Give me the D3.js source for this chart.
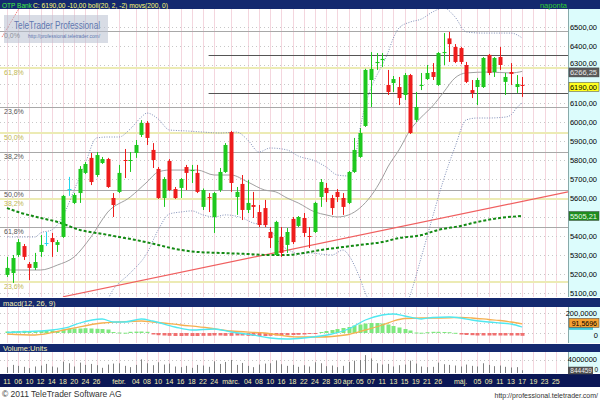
<!DOCTYPE html>
<html><head><meta charset="utf-8">
<script src="https://cdn.jsdelivr.net/npm/d3@7/dist/d3.min.js"></script>
<style>body{margin:0;background:#fff}svg{display:block}text{font-family:"Liberation Sans",Arial,sans-serif}</style>
</head><body><svg id="c" width="600" height="400"></svg>
<script>
// ---------- DATA ----------
const dates = ["01-04","01-05","01-06","01-07","01-10","01-11","01-12","01-13","01-14","01-17","01-18","01-19","01-20","01-21","01-24","01-25","01-26","01-27","01-28","01-31",
"02-01","02-02","02-03","02-04","02-07","02-08","02-09","02-10","02-11","02-14","02-15","02-16","02-17","02-18","02-21","02-22","02-23","02-24","02-25","02-28",
"03-01","03-02","03-03","03-04","03-07","03-08","03-09","03-10","03-11","03-16","03-17","03-18","03-21","03-22","03-23","03-24","03-25","03-28","03-29","03-30","03-31",
"04-01","04-04","04-05","04-06","04-07","04-08","04-11","04-12","04-13","04-14","04-15","04-18","04-19","04-20","04-21","04-22","04-26","04-27","04-28","04-29",
"05-02","05-03","05-04","05-05","05-06","05-09","05-10","05-11","05-12","05-13","05-16","05-17","05-18","05-19","05-20","05-23","05-24","05-25","05-26","05-27"];
const open  = [5195,5205,5300,5347,5253,5232,5316,5363,5389,5353,5395,5647,5574,5626,5732,5811,5721,5784,5805,5600,5632,5800,5795,5837,5932,5995,5853,5753,5600,5795,5647,5653,5763,5742,5732,5553,5605,5500,5642,5737,5947,5605,5674,5537,5563,5526,5547,5421,5300,5395,5353,5490,5453,5495,5400,5421,5605,5653,5600,5632,5600,5574,5737,5816,5979,6221,6310,6326,6195,6205,6184,6142,6247,6011,6190,6226,6263,6195,6365,6440,6395,6389,6300,6168,6184,6184,6353,6263,6342,6211,6263,6184,6195];
const high  = [5290,5300,5384,5358,5263,5311,5405,5421,5416,5379,5616,5711,5626,5768,5789,5837,5842,5816,5811,5626,5774,5858,5842,5905,6010,6005,5889,5763,5710,5805,5658,5705,5774,5774,5774,5650,5626,5632,5758,5889,5953,5658,5721,5695,5632,5563,5590,5447,5480,5447,5442,5500,5505,5521,5447,5580,5700,5679,5616,5647,5626,5742,5916,5968,6280,6368,6363,6363,6274,6242,6237,6258,6253,6158,6258,6300,6310,6368,6468,6474,6410,6395,6316,6221,6232,6342,6358,6342,6395,6258,6310,6247,6237];
const low   = [5184,5153,5290,5274,5168,5221,5290,5347,5290,5316,5390,5611,5568,5574,5726,5668,5711,5779,5653,5500,5626,5705,5737,5811,5921,5879,5758,5595,5553,5637,5595,5600,5642,5679,5626,5537,5526,5416,5632,5732,5632,5511,5484,5521,5495,5447,5447,5337,5295,5290,5311,5358,5447,5395,5337,5416,5553,5579,5511,5579,5511,5568,5732,5811,5974,6079,6274,6289,6142,6158,6089,6116,5937,6000,6168,6221,6221,6190,6300,6316,6310,6305,6205,6126,6089,6179,6247,6237,6274,6142,6195,6153,6132];
const close = [5232,5284,5368,5290,5232,5263,5353,5363,5368,5368,5611,5647,5616,5753,5779,5684,5826,5805,5658,5563,5732,5795,5800,5879,5995,5916,5800,5600,5700,5642,5600,5700,5732,5747,5632,5642,5600,5626,5737,5879,5679,5632,5537,5574,5553,5458,5458,5389,5474,5311,5421,5368,5500,5416,5395,5574,5684,5626,5547,5605,5553,5737,5853,5942,6274,6279,6316,6332,6158,6226,6126,6247,5942,6079,6195,6258,6237,6363,6368,6410,6316,6316,6211,6153,6221,6337,6258,6337,6300,6237,6253,6200,6190];
const volume = [1800000,2500000,2200000,1900000,1500000,2000000,2300000,2800000,2000000,1700000,3500000,3000000,2000000,3200000,2500000,2800000,2400000,1600000,2600000,2900000,
3000000,2200000,1800000,2500000,4200000,3000000,2400000,3300000,2600000,2900000,2000000,1800000,2200000,1600000,2500000,2300000,1900000,3600000,2800000,3400000,
4000000,2500000,3100000,2200000,1800000,2600000,2900000,3000000,3800000,2700000,2200000,2500000,1900000,2400000,2000000,3300000,3000000,2100000,2300000,1800000,
2200000,3400000,3800000,4000000,5500000,4500000,3000000,2600000,2800000,2000000,2400000,2600000,3800000,2900000,2000000,1800000,1900000,3200000,2700000,2500000,
2300000,2000000,2600000,2200000,2000000,3000000,2500000,2100000,2300000,1900000,1700000,1800000,844459];
// Bollinger (20,2): day index -> value
const bbUpperAt = [0,5,6,8,10,12,14,16,18,20,22,24,25,27,29,32,35,38,41,43,45,47,50,52,55,57,59,61,62,63,64,65,67,68,69,70,72,74,76,78,80,82,85,90,92];
const bbUpper   = [5395,5395,5416,5432,5505,5642,5784,5916,5921,5921,5963,6026,6047,6016,5958,5953,5947,5942,5947,5905,5842,5863,5853,5821,5795,5763,5721,5716,5774,5958,6089,6179,6300,6363,6442,6495,6526,6542,6579,6600,6553,6474,6468,6468,6442];
const bbMidAt   = [0,6,9,12,15,18,22,25,27,29,31,34,37,40,43,46,48,50,52,55,57,59,61,63,65,67,68,70,72,74,76,78,80,82,86,90,92];
const bbMid     = [5221,5221,5247,5290,5395,5526,5605,5684,5737,5747,5747,5747,5721,5721,5684,5642,5632,5600,5574,5526,5511,5500,5511,5547,5611,5705,5763,5853,5958,6026,6084,6158,6232,6258,6263,6258,6266.25];
const bbLowerAt = [0,5,8,12,16,19,22,25,27,29,31,33,35,37,39,42,44,46,47,49,51,52,54,56,58,60,61,62,63,64,66,68,70,72,74,76,78,80,82,84,86,89,90,91,92];
const bbLower   = [5047,5047,5010,4940,4960,5120,5205,5310,5432,5516,5526,5532,5511,5500,5511,5495,5468,5458,5432,5353,5316,5305,5311,5305,5300,5326,5300,5247,5179,5100,5000,4950,4950,5090,5290,5500,5700,5868,6011,6021,6021,6026,6037,6074,6100];
// moving average 200
const smaAt = [0,2,6,9,13,17,20,23,27,30,34,38,43,47,50,53,56,60,63,67,70,74,77,81,84,88,92];
const sma   = [5547,5526,5495,5474,5432,5411,5395,5379,5353,5332,5316,5311,5305,5300,5300,5311,5326,5342,5353,5368,5389,5405,5432,5453,5474,5495,5505.21];
// MACD (12,26,9)
const macdAt = [0,2,8,11,13,17,19,21,24,26,30,33,37,40,44,47,50,53,56,58,61,64,67,69,71,74,76,79,81,83,86,88,90,92];
const macd   = [5,10,30,60,100,140,110,110,140,120,60,30,40,10,-20,-50,-60,-50,-30,-10,40,130,180,190,170,140,155,160,150,130,110,100,90,60];
const sigAt  = [0,5,11,17,20,24,26,31,36,40,46,52,56,58,61,64,67,69,71,74,76,79,81,83,86,88,90,92];
const signal = [-10,-20,40,100,110,120,110,80,50,20,0,-40,-40,-35,-15,30,80,120,145,150,150,152,155,150,135,125,110,91.5696];
const hist = [15,18,20,22,20,18,20,22,25,20, 35,40,45,45,48,45,42,40,35, 10,5,3, 12,14,15,12,
-15,-22,-25,-28,-30,-30,-28,-30,-30,-28,-28,-25,-25,-28,-28,-25,-25,-28,-30,-30,-30,-28,-25,-25,-22,-20,-18,-15,
-10,-5, 10,20,30,40,50,60,75,85,95,100,100,95,85,70,55,40,25, 5,3,8,12,12, 10,8,2,
-15,-20,-22,-25,-25,-25,-25,-25,-25,-25,-25,-28];
// drawn studies
const fibGray = [6479,6079,5842,5642,5447];
const fibGrayText = ["0,0%","23,6%","38,2%","50,0%","61,8%"];
const fibYellow = [6284,5942,5595,5158];
const fibYellowText = ["61,8%","50,0%","38,2%","23,6%"];
const hLines = [6353,6153];
const hLinesFrom = "02-23";
const trendDays = ["01-18","05-27"];
const trendVals = [5080,5631];
const trend2Days = ["01-04","01-07"];
const trend2Vals = [6447,6640];
const priceTicks = [5100,5200,5300,5400,5500,5600,5700,5800,5900,6000,6100,6200,6300,6400,6500];
const tickDays = ["01-04","01-06","01-10","01-12","01-14","01-18","01-20","01-24","01-26","02-01","02-04","02-08","02-10","02-14","02-16","02-18","02-22","02-24","03-01","03-04","03-08","03-10","03-16","03-18","03-22","03-24","03-28","03-30","04-01","04-05","04-07","04-11","04-13","04-15","04-19","04-21","04-26","05-02","05-05","05-09","05-11","05-13","05-17","05-19","05-23","05-25"];
const tickText = ["11","06","10","12","14","18","20","24","26","febr.","04","08","10","14","16","18","22","24","márc.","04","08","10","16","18","22","24","28","30","ápr.","05","07","11","13","15","19","21","26","máj.","05","09","11","13","17","19","23","25"];

// ---------- CHART ----------
const svg = d3.select("#c");
const NAVY = "#14296f", NAVY2 = "#0b1755", AXBG = "#dcfcfc";
const PR = 568;
const n = close.length;
const x = d3.scaleBand().domain(dates).range([4.2, 4.2 + 5.6 * dates.length]);
const xc = d => x(d) + x.bandwidth() / 2;
const xi = i => xc(dates[i]);
const yP = d3.scaleLinear().domain([5078.9, 6594.7]).range([297, 9]);
const yM = d3.scaleLinear().domain([-100, 260]).range([343, 307]);
const yV = d3.scaleLinear().domain([0, 4000000]).range([373, 360]);

svg.append("rect").attr("width", 600).attr("height", 400).attr("fill", "#fff");
const defs = svg.append("defs");
function clip(id, y0, y1) {
  defs.append("clipPath").attr("id", id).append("rect").attr("x", 0).attr("y", y0).attr("width", PR).attr("height", y1 - y0);
}
clip("cm", 9, 297); clip("cd", 307, 343); clip("cv", 352, 373);

// bars
svg.append("rect").attr("x", 0).attr("y", 0).attr("width", 600).attr("height", 9).attr("fill", NAVY);
svg.append("rect").attr("x", 0).attr("y", 298).attr("width", 600).attr("height", 9).attr("fill", NAVY);
svg.append("rect").attr("x", 0).attr("y", 344).attr("width", 600).attr("height", 8).attr("fill", NAVY);
svg.append("rect").attr("x", 0).attr("y", 374).attr("width", 600).attr("height", 13).attr("fill", NAVY2);
[[9, 297], [307, 343], [352, 373]].forEach(([a, b]) => {
  svg.append("rect").attr("x", PR).attr("y", a).attr("width", 600 - PR).attr("height", b - a).attr("fill", AXBG);
  svg.append("line").attr("x1", PR + 0.5).attr("x2", PR + 0.5).attr("y1", a).attr("y2", b).attr("stroke", "#8aa").attr("stroke-width", 1);
});

// vertical grid in all panels
const gridV = svg.append("g");
[[9, 297], [307, 343], [352, 373]].forEach(([a, b]) => {
  tickDays.forEach(d => {
    gridV.append("line").attr("x1", Math.round(xc(d)) + 0.5).attr("x2", Math.round(xc(d)) + 0.5).attr("y1", a).attr("y2", b)
      .attr("stroke", "#f4d6de").attr("stroke-width", 1);
  });
});
// horizontal dotted grid (main)
const gm = svg.append("g").attr("clip-path", "url(#cm)");
priceTicks.forEach(p => {
  gm.append("line").attr("x1", 0).attr("x2", PR).attr("y1", Math.round(yP(p)) + 0.5).attr("y2", Math.round(yP(p)) + 0.5)
    .attr("stroke", "#c8c8c8").attr("stroke-dasharray", "1,3");
});
// fib lines
fibYellow.forEach((p, k) => {
  gm.append("line").attr("x1", 0).attr("x2", PR).attr("y1", yP(p)).attr("y2", yP(p)).attr("stroke", "#ecebb4").attr("stroke-width", 2);
  gm.append("text").attr("x", 4).attr("y", yP(p) + 7).attr("font-size", 7).attr("fill", "#c0b850").text(fibYellowText[k]);
});
fibGray.forEach((p, k) => {
  gm.append("line").attr("x1", 0).attr("x2", PR).attr("y1", Math.round(yP(p)) + 0.5).attr("y2", Math.round(yP(p)) + 0.5).attr("stroke", "#a8a8a8");
  gm.append("text").attr("x", 4).attr("y", yP(p) + 7).attr("font-size", 7).attr("fill", "#555").text(fibGrayText[k]);
});
hLines.forEach(p => {
  gm.append("line").attr("x1", xc(hLinesFrom)).attr("x2", PR).attr("y1", Math.round(yP(p)) + 0.5).attr("y2", Math.round(yP(p)) + 0.5).attr("stroke", "#555");
});
// trend lines (extended to edge)
function extLine(days, vals) {
  const x1 = xc(days[0]), x2 = xc(days[1]), y1 = yP(vals[0]), y2 = yP(vals[1]);
  const s = (y2 - y1) / (x2 - x1);
  return [x1, y1, PR, y1 + s * (PR - x1)];
}
let t = extLine(trendDays, trendVals);
gm.append("line").attr("x1", t[0]).attr("y1", t[1]).attr("x2", t[2]).attr("y2", t[3]).attr("stroke", "#f06060").attr("stroke-width", 1.2);
gm.append("line").attr("x1", xc(trend2Days[0]) - 5).attr("y1", yP(trend2Vals[0])).attr("x2", xc(trend2Days[1])).attr("y2", yP(trend2Vals[1]))
  .attr("stroke", "#f06060").attr("stroke-dasharray", "1,1");

// bollinger, sma
const lineOf = (at, vals, y) => d3.line().x((v, k) => xi(at[k])).y(v => y(v)).curve(d3.curveMonotoneX)(vals);
gm.append("path").attr("d", lineOf(bbUpperAt, bbUpper, yP)).attr("fill", "none").attr("stroke", "#7f8fb8").attr("stroke-dasharray", "1,1.5");
gm.append("path").attr("d", lineOf(bbLowerAt, bbLower, yP)).attr("fill", "none").attr("stroke", "#7f8fb8").attr("stroke-dasharray", "1,1.5");
gm.append("path").attr("d", lineOf(bbMidAt, bbMid, yP)).attr("fill", "none").attr("stroke", "#a0a0a0");
gm.append("path").attr("d", lineOf(smaAt, sma, yP)).attr("fill", "none").attr("stroke", "#138a13").attr("stroke-width", 2).attr("stroke-dasharray", "3,2");

// candles
const colOf = i => close[i] > open[i] ? "#1ec81e" : (close[i] < open[i] ? "#ee1c1c" : "#22d8ee");
const cg = gm.append("g");
d3.range(n).forEach(i => {
  const cx = Math.round(xi(i));
  cg.append("line").attr("x1", cx + 0.5).attr("x2", cx + 0.5).attr("y1", yP(high[i])).attr("y2", yP(low[i])).attr("stroke", colOf(i)).attr("stroke-width", 1);
  const yt = yP(Math.max(open[i], close[i])), yb = yP(Math.min(open[i], close[i]));
  cg.append("rect").attr("x", cx - 1.5).attr("y", yt).attr("width", 4).attr("height", Math.max(1, yb - yt)).attr("fill", colOf(i));
});

// watermark
const wm = svg.append("g");
wm.append("rect").attr("x", 4).attr("y", 15).attr("width", 104).attr("height", 28).attr("fill", "#b8bfd0").attr("opacity", 0.55);
wm.append("text").attr("x", 14).attr("y", 29).attr("font-size", 10.5).attr("fill", "#6078b0").attr("textLength", 86).attr("lengthAdjust", "spacingAndGlyphs").text("TeleTrader Professional");
wm.append("text").attr("x", 28).attr("y", 38).attr("font-size", 6).attr("fill", "#6078b0").attr("textLength", 72).attr("lengthAdjust", "spacingAndGlyphs").text("http://professional.teletrader.com/");

// price axis labels (6200 is hidden behind the last-price tag in the reference)
const ax = svg.append("g").attr("font-size", 7.5).attr("fill", "#000");
priceTicks.filter(p => p !== 6200).forEach(p => {
  ax.append("text").attr("x", 597).attr("y", yP(p) + (p === 6300 ? 1.5 : 3)).attr("text-anchor", "end").text(d3.format(",.2f")(p).replace(/,/g, "").replace(".", ","));
});
function tag(y, txt, bg, fg, fs) {
  svg.append("rect").attr("x", 569).attr("y", y - 4.5).attr("width", 30).attr("height", 9).attr("fill", bg).attr("stroke", "#444").attr("stroke-width", 0.5);
  svg.append("text").attr("x", 597).attr("y", y + 3).attr("text-anchor", "end").attr("font-size", fs || 7.5).attr("fill", fg).text(txt);
}
tag(yP(bbMid[bbMid.length - 1]) + 1, "6266,25", "#5a5a5a", "#e8e8e8");
tag(yP(close[n - 1]) + 1, "6190,00", "#ffff20", "#000");
tag(yP(sma[sma.length - 1]), "5505,21", "#1e8c1e", "#e8ffe8");

// MACD panel
const gd = svg.append("g").attr("clip-path", "url(#cd)");
[0, 100, 200].forEach(v => gd.append("line").attr("x1", 0).attr("x2", PR).attr("y1", Math.round(yM(v)) + 0.5).attr("y2", Math.round(yM(v)) + 0.5).attr("stroke", "#c8c8c8").attr("stroke-dasharray", "1,3"));
d3.range(n).forEach(i => {
  const v = hist[i];
  const y0 = yM(0), y1 = yM(v);
  gd.append("rect").attr("x", Math.round(xi(i)) - 1.5).attr("y", Math.min(y0, y1)).attr("width", 4).attr("height", Math.max(1, Math.abs(y1 - y0)))
    .attr("fill", v >= 0 ? "#7ee87e" : "#f07070");
});
gd.append("path").attr("d", lineOf(sigAt, signal, yM)).attr("fill", "none").attr("stroke", "#f5b050").attr("stroke-width", 1.3);
gd.append("path").attr("d", lineOf(macdAt, macd, yM)).attr("fill", "none").attr("stroke", "#50e8f0").attr("stroke-width", 1.3);
ax.append("text").attr("x", 597).attr("y", yM(200) + 3).attr("text-anchor", "end").text("200,0000");
ax.append("text").attr("x", 598).attr("y", yM(0) + 4.5).attr("text-anchor", "end").text("0");
// MACD last-value tag, mostly hidden under the signal tag
svg.append("rect").attr("x", 569).attr("y", yM(signal[signal.length - 1])).attr("width", 24).attr("height", 6).attr("fill", "#40c8d8");
tag(yM(signal[signal.length - 1]) - 1, "91,5696", "#f5a030", "#000", 7);

// Volume panel
const gv = svg.append("g").attr("clip-path", "url(#cv)");
[0, 4000000].forEach(v => gv.append("line").attr("x1", 0).attr("x2", PR).attr("y1", Math.round(yV(v)) + 0.5).attr("y2", Math.round(yV(v)) + 0.5).attr("stroke", "#c8c8c8").attr("stroke-dasharray", "1,3"));
d3.range(n).forEach(i => {
  gv.append("line").attr("x1", Math.round(xi(i)) + 0.5).attr("x2", Math.round(xi(i)) + 0.5).attr("y1", yV(0)).attr("y2", yV(volume[i])).attr("stroke", "#808080");
});
ax.append("text").attr("x", 597).attr("y", yV(4000000) + 2).attr("text-anchor", "end").text("4000000");
ax.append("text").attr("x", 598).attr("y", yV(0) - 1).attr("text-anchor", "end").attr("font-size", 6.5).text("0");
svg.append("rect").attr("x", 568).attr("y", yV(volume[n - 1]) - 3.5).attr("width", 25).attr("height", 7.5).attr("fill", "#505050");
svg.append("text").attr("x", 592).attr("y", yV(volume[n - 1]) + 2.5).attr("text-anchor", "end").attr("font-size", 6.5).attr("fill", "#f0f0f0").text(volume[n - 1]);

// date axis
const dg = svg.append("g").attr("font-size", 7).attr("fill", "#f4f0b0").attr("text-anchor", "middle");
tickDays.forEach((d, k) => dg.append("text").attr("x", xc(d)).attr("y", 384).text(tickText[k]));

// headers
svg.append("text").attr("x", 2).attr("y", 7.5).attr("font-size", 6.5).attr("fill", "#40f040").text("OTP Bank");
svg.append("text").attr("x", 33).attr("y", 7.5).attr("font-size", 7.5).attr("fill", "#ffff70")
  .attr("textLength", 135).attr("lengthAdjust", "spacingAndGlyphs").text("C: 6190,00 -10,00 boll(20, 2, -2) movs(200, 0)");
svg.append("text").attr("x", 567).attr("y", 7.5).attr("text-anchor", "end").attr("font-size", 7.5).attr("fill", "#30d030").text("naponta");
svg.append("text").attr("x", 3).attr("y", 305.5).attr("font-size", 7.5).attr("fill", "#f4f0b0").text("macd(12, 26, 9)");
svg.append("text").attr("x", 3).attr("y", 351).attr("font-size", 7.5).attr("fill", "#f4f0b0").text("Volume:Units");

// footer
svg.append("text").attr("x", 2).attr("y", 397).attr("font-size", 8.5).attr("fill", "#333").text("© 2011 TeleTrader Software AG");
svg.append("text").attr("x", 598).attr("y", 398).attr("text-anchor", "end").attr("font-size", 7).attr("fill", "#333").text("http://professional.teletrader.com/");
</script></body></html>
